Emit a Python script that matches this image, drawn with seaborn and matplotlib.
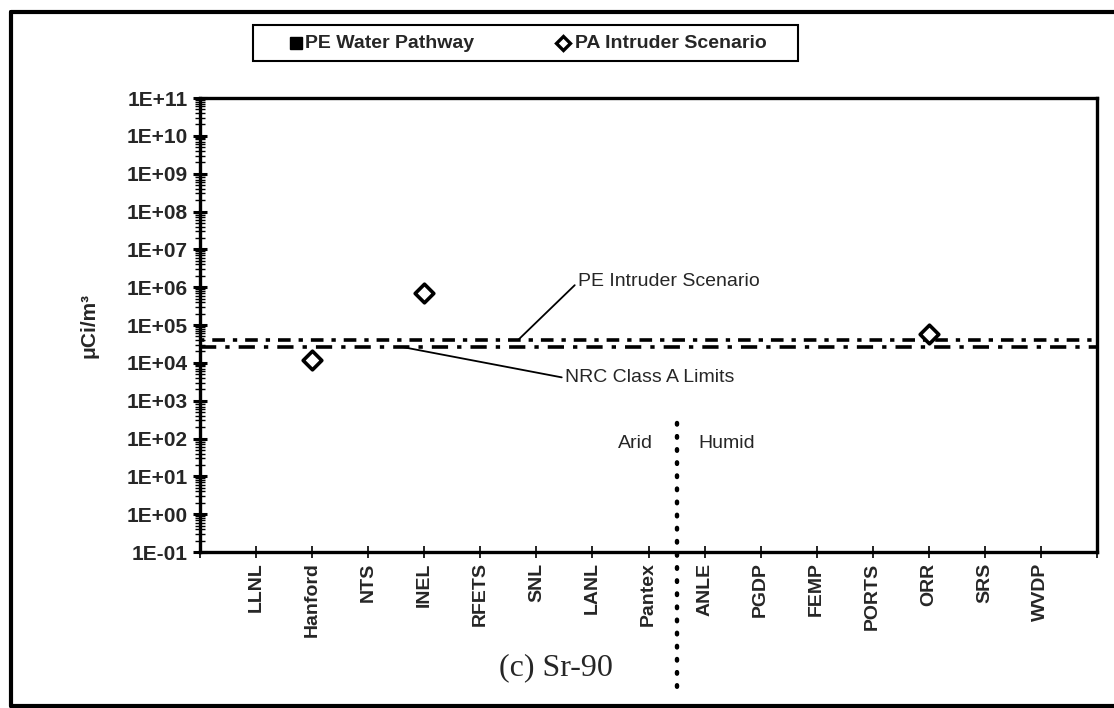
import numpy as np
import pandas as pd
import matplotlib
matplotlib.use("Agg")
import matplotlib.pyplot as plt
import seaborn as sns
from matplotlib.ticker import LogLocator, FixedLocator, NullFormatter, FuncFormatter
from matplotlib.lines import Line2D
from matplotlib.patches import Rectangle

# ---- data ----
sites = ["LLNL", "Hanford", "NTS", "INEL", "RFETS", "SNL", "LANL", "Pantex",
         "ANLE", "PGDP", "FEMP", "PORTS", "ORR", "SRS", "WVDP"]
pa_sites = ["Hanford", "INEL", "ORR"]
pa_values = [1.2e4, 7.0e5, 5.8e4]
pe_water_sites = []
pe_water_values = []
pe_intruder_limit = 4.0e4
nrc_class_a_limit = 2.6e4
y_exponents = list(range(-1, 12))
legend_labels = ["PE Water Pathway", "PA Intruder Scenario"]

sns.set_theme(style="white")
plt.rcParams["font.family"] = ["Liberation Sans", "DejaVu Sans"]

W, H = 1114, 708
fig = plt.figure(figsize=(W / 100, H / 100), dpi=100)
ax = fig.add_axes([200/W, 1-552/H, (1097-200)/W, (552-98)/H])

pos = {s: i + 1 for i, s in enumerate(sites)}
df = pd.DataFrame({"x": [pos[s] for s in pa_sites], "y": pa_values})

ax.set_yscale("log")
ax.set_xlim(0, len(sites) + 1)
ax.set_ylim(10.0 ** y_exponents[0], 10.0 ** y_exponents[-1])

# horizontal limit lines
ax.axhline(pe_intruder_limit, color="black", lw=2.6, linestyle=(0, (1.2, 2.2, 3.5, 2.2)), zorder=2)
ax.axhline(nrc_class_a_limit, color="black", lw=2.6, linestyle=(0, (4.5, 2.5, 1.2, 2.5)), zorder=2)

sns.scatterplot(data=df, x="x", y="y", marker="D", s=90, facecolor="white",
                edgecolor="black", linewidth=2.6, ax=ax, zorder=4, legend=False)

# axes styling
for sp in ax.spines.values():
    sp.set_visible(True)
    sp.set_color("black")
    sp.set_linewidth(2.4)

ax.yaxis.set_major_locator(FixedLocator([10.0 ** e for e in y_exponents]))
ax.yaxis.set_major_formatter(FuncFormatter(lambda v, p: "1E%+03d" % int(round(np.log10(v)))))
ax.yaxis.set_minor_locator(LogLocator(base=10, subs=np.arange(2, 10), numticks=100))
ax.yaxis.set_minor_formatter(NullFormatter())
ax.tick_params(axis="y", which="major", direction="inout", length=10, width=2.2,
               left=True, labelsize=15, pad=4, color="black")
ax.tick_params(axis="y", which="minor", direction="inout", length=7, width=1.0, left=True, color="black")
for lab in ax.get_yticklabels():
    lab.set_fontweight("bold")

ax.set_xticks([pos[s] for s in sites])
ax.set_xticklabels(sites, rotation=90, fontsize=14, fontweight="bold")
ax.set_xticks([0, len(sites) + 1], minor=True)
ax.tick_params(axis="x", which="both", direction="inout", length=9, width=1.2,
               bottom=True, pad=3, color="black")
ax.set_xlabel("")

ax.set_ylabel("μCi/m³", fontsize=15, fontweight="bold")
ax.yaxis.set_label_coords(-(200-98)/897, 0.5)

# Arid / Humid divider
xt = ax.get_xaxis_transform()
ax.plot([8.5, 8.5], [(552-423)/454, (552-690)/454], transform=xt, color="black",
        lw=3.2, linestyle=(0, (0.35, 2.6)), dash_capstyle="round", clip_on=False, zorder=3)
ax.text((653-200)/56.06, (552-443)/454, "Arid", transform=xt, ha="right", va="center", fontsize=14)
ax.text((698-200)/56.06, (552-443)/454, "Humid", transform=xt, ha="left", va="center", fontsize=14)

# annotations
def yval(py):
    return 10 ** (11 - (py - 98) / ((552 - 98) / 12))

ax.annotate("PE Intruder Scenario", xy=((518-200)/56.06, pe_intruder_limit),
            xytext=((578-200)/56.06, yval(282)), ha="left", va="center", fontsize=14,
            arrowprops=dict(arrowstyle="-", color="black", lw=1.3, shrinkA=0, shrinkB=0,
                            relpos=(0, 0.5)))
ax.annotate("NRC Class A Limits", xy=((403-200)/56.06, nrc_class_a_limit),
            xytext=((565-200)/56.06, yval(378)), ha="left", va="center", fontsize=14,
            arrowprops=dict(arrowstyle="-", color="black", lw=1.3, shrinkA=0, shrinkB=0,
                            relpos=(0, 0.5)))

# legend box (drawn as figure artists)
fig.add_artist(Rectangle((253/W, 1-61/H), (798-253)/W, 36/H, transform=fig.transFigure,
                         fill=False, edgecolor="black", lw=1.5))
fig.add_artist(Line2D([296/W], [1-43/H], transform=fig.transFigure, marker="s",
                      color="black", linestyle="none", markersize=8.5))
fig.add_artist(Line2D([563/W], [1-43/H], transform=fig.transFigure, marker="D",
                      markerfacecolor="white", markeredgecolor="black", markeredgewidth=2.4,
                      linestyle="none", markersize=7))
fig.text(305/W, 1-43/H, legend_labels[0], ha="left", va="center", fontsize=14, fontweight="bold")
fig.text(575/W, 1-43/H, legend_labels[1], ha="left", va="center", fontsize=14, fontweight="bold")

fig.text(556/W, 1-668/H, "(c) Sr-90", ha="center", va="center", fontsize=23,
         family="Liberation Serif")

# outer frame
for (x0, y0, x1, y1) in [(11, 12, W, 12), (11, 12, 11, 706), (11, 706, W, 706)]:
    fig.add_artist(Line2D([x0/W, x1/W], [1-y0/H, 1-y1/H], transform=fig.transFigure,
                          color="black", lw=3))

fig.savefig("out.png", dpi=100)
